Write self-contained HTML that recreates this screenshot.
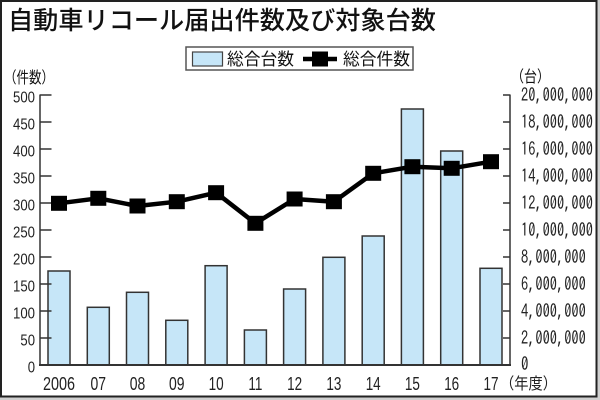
<!DOCTYPE html>
<html><head><meta charset="utf-8"><style>
html,body{margin:0;padding:0;background:#c8c8c8;}
svg{display:block;}
</style></head><body>
<svg width="600" height="400" viewBox="0 0 600 400" xmlns="http://www.w3.org/2000/svg">
<rect x="0" y="0" width="600" height="400" fill="#cfcfcf"/>
<rect x="1" y="1" width="595.5" height="395.5" fill="#ffffff" stroke="#222" stroke-width="2"/>
<text x="8" y="29" font-family="'Liberation Sans','Noto Sans CJK JP',sans-serif" font-size="25" font-weight="500" fill="#111" textLength="428" lengthAdjust="spacingAndGlyphs">自動車リコール届出件数及び対象台数</text>
<!-- legend -->
<rect x="186" y="47" width="227" height="23" fill="#fff" stroke="#555" stroke-width="1.5"/>
<rect x="192.5" y="52" width="30" height="14" fill="#c6e6f8" stroke="#444" stroke-width="1.2"/>
<text x="227" y="65" font-family="'Liberation Sans','Noto Sans CJK JP',sans-serif" font-size="17" fill="#111" textLength="67" lengthAdjust="spacingAndGlyphs">総合台数</text>
<line x1="303" y1="59" x2="337" y2="59" stroke="#000" stroke-width="4.5"/>
<rect x="312" y="51.5" width="16" height="15" fill="#000"/>
<text x="343" y="65" font-family="'Liberation Sans','Noto Sans CJK JP',sans-serif" font-size="17" fill="#111" textLength="67" lengthAdjust="spacingAndGlyphs">総合件数</text>
<!-- axis titles -->
<text x="4" y="83" font-family="'Liberation Sans','Noto Sans CJK JP',sans-serif" font-size="16" fill="#111" textLength="50" lengthAdjust="spacingAndGlyphs">（件数）</text>
<text x="511" y="82" font-family="'Liberation Sans','Noto Sans CJK JP',sans-serif" font-size="16" fill="#111" textLength="39" lengthAdjust="spacingAndGlyphs">（台）</text>
<!-- bars -->
<g fill="#c6e6f8" stroke="#333" stroke-width="1.5">
<rect x="48" y="271" width="22" height="94"/>
<rect x="87.3" y="307.3" width="22" height="57.7"/>
<rect x="126.5" y="292.3" width="22" height="72.7"/>
<rect x="165.8" y="320.3" width="22" height="44.7"/>
<rect x="205.1" y="265.7" width="22" height="99.3"/>
<rect x="244.4" y="330" width="22" height="35"/>
<rect x="283.6" y="289" width="22" height="76"/>
<rect x="322.9" y="257.3" width="22" height="107.7"/>
<rect x="362.2" y="236" width="22" height="129"/>
<rect x="401.4" y="109" width="22" height="256"/>
<rect x="440.7" y="151" width="22" height="214"/>
<rect x="480" y="268.3" width="22" height="96.7"/>
</g>
<!-- axes -->
<g stroke="#333" stroke-width="1.5">
<line x1="40" y1="94.5" x2="40" y2="365"/>
<line x1="510" y1="94.5" x2="510" y2="365"/>
<line x1="39" y1="365" x2="511" y2="365" stroke-width="2"/>
<line x1="40" y1="95" x2="51.5" y2="95"/>
<line x1="40" y1="122" x2="51.5" y2="122"/>
<line x1="40" y1="149" x2="51.5" y2="149"/>
<line x1="40" y1="176" x2="51.5" y2="176"/>
<line x1="40" y1="203" x2="51.5" y2="203"/>
<line x1="40" y1="230" x2="51.5" y2="230"/>
<line x1="40" y1="257" x2="51.5" y2="257"/>
<line x1="40" y1="284" x2="51.5" y2="284"/>
<line x1="40" y1="311" x2="51.5" y2="311"/>
<line x1="40" y1="338" x2="51.5" y2="338"/>
<line x1="503" y1="95" x2="510" y2="95"/>
<line x1="503" y1="122" x2="510" y2="122"/>
<line x1="503" y1="149" x2="510" y2="149"/>
<line x1="503" y1="176" x2="510" y2="176"/>
<line x1="503" y1="203" x2="510" y2="203"/>
<line x1="503" y1="230" x2="510" y2="230"/>
<line x1="503" y1="257" x2="510" y2="257"/>
<line x1="503" y1="284" x2="510" y2="284"/>
<line x1="503" y1="311" x2="510" y2="311"/>
<line x1="503" y1="338" x2="510" y2="338"/>
</g>
<!-- line series -->
<polyline fill="none" stroke="#000" stroke-width="4.5" stroke-linejoin="round"
 points="59,203.3 98.3,198.3 137.5,206 176.8,201.7 216.1,192.7 255.4,223.3 294.6,199 333.9,201.7 373.2,173.3 412.4,166.7 451.7,168.3 491,161.7"/>
<g fill="#000">
<rect x="51" y="195.8" width="16" height="15"/>
<rect x="90.3" y="190.8" width="16" height="15"/>
<rect x="129.5" y="198.5" width="16" height="15"/>
<rect x="168.8" y="194.2" width="16" height="15"/>
<rect x="208.1" y="185.2" width="16" height="15"/>
<rect x="247.4" y="215.8" width="16" height="15"/>
<rect x="286.6" y="191.5" width="16" height="15"/>
<rect x="325.9" y="194.2" width="16" height="15"/>
<rect x="365.2" y="165.8" width="16" height="15"/>
<rect x="404.4" y="159.2" width="16" height="15"/>
<rect x="443.7" y="160.8" width="16" height="15"/>
<rect x="483" y="154.2" width="16" height="15"/>
</g>
<!-- left tick labels -->
<g font-family="'Liberation Sans',sans-serif" font-size="15.5" fill="#222" text-anchor="end">
<text x="35" y="102.7" textLength="22" lengthAdjust="spacingAndGlyphs">500</text>
<text x="35" y="129.7" textLength="22" lengthAdjust="spacingAndGlyphs">450</text>
<text x="35" y="156.7" textLength="22" lengthAdjust="spacingAndGlyphs">400</text>
<text x="35" y="183.7" textLength="22" lengthAdjust="spacingAndGlyphs">350</text>
<text x="35" y="210.7" textLength="22" lengthAdjust="spacingAndGlyphs">300</text>
<text x="35" y="237.7" textLength="22" lengthAdjust="spacingAndGlyphs">250</text>
<text x="35" y="264.7" textLength="22" lengthAdjust="spacingAndGlyphs">200</text>
<text x="35" y="291.7" textLength="22" lengthAdjust="spacingAndGlyphs">150</text>
<text x="35" y="318.7" textLength="22" lengthAdjust="spacingAndGlyphs">100</text>
<text x="35" y="345.7" textLength="14.6" lengthAdjust="spacingAndGlyphs">50</text>
<text x="35" y="372.7" textLength="7.3" lengthAdjust="spacingAndGlyphs">0</text>
</g>
<!-- right tick labels -->
<g font-family="'IPAGothic','Liberation Mono',monospace" font-size="18" fill="#222">
<text x="521" y="101.5" textLength="72" lengthAdjust="spacingAndGlyphs">20,000,000</text>
<text x="521" y="128.5" textLength="72" lengthAdjust="spacingAndGlyphs">18,000,000</text>
<text x="521" y="155.5" textLength="72" lengthAdjust="spacingAndGlyphs">16,000,000</text>
<text x="521" y="182.5" textLength="72" lengthAdjust="spacingAndGlyphs">14,000,000</text>
<text x="521" y="209.5" textLength="72" lengthAdjust="spacingAndGlyphs">12,000,000</text>
<text x="521" y="236.5" textLength="72" lengthAdjust="spacingAndGlyphs">10,000,000</text>
<text x="521" y="263.5" textLength="64.8" lengthAdjust="spacingAndGlyphs">8,000,000</text>
<text x="521" y="290.5" textLength="64.8" lengthAdjust="spacingAndGlyphs">6,000,000</text>
<text x="521" y="317.5" textLength="64.8" lengthAdjust="spacingAndGlyphs">4,000,000</text>
<text x="521" y="344.5" textLength="64.8" lengthAdjust="spacingAndGlyphs">2,000,000</text>
<text x="521" y="370.5" textLength="7.5" lengthAdjust="spacingAndGlyphs">0</text>
</g>
<!-- x labels -->
<g font-family="'Liberation Sans',sans-serif" font-size="18" fill="#222" text-anchor="middle">
<text x="59" y="390" textLength="32" lengthAdjust="spacingAndGlyphs">2006</text>
<text x="98.3" y="390" textLength="15.5" lengthAdjust="spacingAndGlyphs">07</text>
<text x="137.5" y="390" textLength="15.5" lengthAdjust="spacingAndGlyphs">08</text>
<text x="176.8" y="390" textLength="15.5" lengthAdjust="spacingAndGlyphs">09</text>
<text x="216.1" y="390" textLength="15" lengthAdjust="spacingAndGlyphs">10</text>
<text x="255.4" y="390" textLength="14" lengthAdjust="spacingAndGlyphs">11</text>
<text x="294.6" y="390" textLength="15" lengthAdjust="spacingAndGlyphs">12</text>
<text x="333.9" y="390" textLength="15" lengthAdjust="spacingAndGlyphs">13</text>
<text x="373.2" y="390" textLength="15" lengthAdjust="spacingAndGlyphs">14</text>
<text x="412.4" y="390" textLength="15" lengthAdjust="spacingAndGlyphs">15</text>
<text x="451.7" y="390" textLength="15" lengthAdjust="spacingAndGlyphs">16</text>
<text x="491" y="390" textLength="15" lengthAdjust="spacingAndGlyphs">17</text>
</g>
<text x="500" y="389" font-family="'Liberation Sans','Noto Sans CJK JP',sans-serif" font-size="16" fill="#222" textLength="57" lengthAdjust="spacingAndGlyphs">（年度）</text>
</svg>
</body></html>
